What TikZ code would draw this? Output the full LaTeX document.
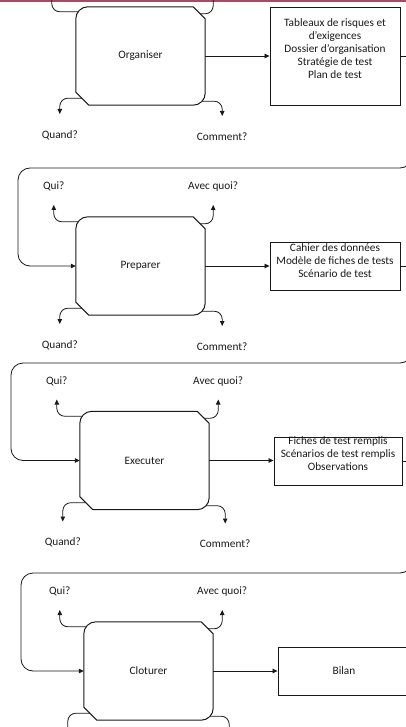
\documentclass[tikz,border=0pt]{standalone}
\usepackage{fontspec}
\setmainfont{Carlito}
\usetikzlibrary{calc,arrows.meta}

\definecolor{topline}{RGB}{160,78,100}
\definecolor{ink}{RGB}{25,25,25}

% Outline of a process stage: rounded top-left and bottom-right corners,
% cut top-right and bottom-left corners.
\newcommand\stageoutline[1]{%
  \draw[outline] ($(#1.north west)+(0,12)$)
    .. controls ($(#1.north west)+(0,5.4)$) and ($(#1.north west)+(5.4,0)$) .. ($(#1.north west)+(12,0)$)
    -- ($(#1.north east)+(-12,0)$) -- ($(#1.north east)+(0,12)$)
    -- ($(#1.south east)+(0,-12)$)
    .. controls ($(#1.south east)+(0,-5.4)$) and ($(#1.south east)+(-5.4,0)$) .. ($(#1.south east)+(-12,0)$)
    -- ($(#1.south west)+(13,0)$) -- ($(#1.south west)+(0,-13)$) -- cycle;}

% Question arrows leaving a stage towards its labels
\newcommand\upflows[3]{%
  \draw[cornerflow,shorten >=13pt] ($(#1.north west)+(2,5)$) -| (#2.south);
  \draw[cornerflow,shorten >=13pt] ($(#1.north east)+(-5,7)$) -| (#3.south);}
\newcommand\downflows[3]{%
  \draw[cornerflow,shorten >=16pt] ($(#1.south west)+(6,-7)$) -| (#2.north);
  \draw[cornerflow,shorten >=16pt] ($(#1.south east)+(-3,-4)$) -| (#3.north);}

\begin{document}
\begin{tikzpicture}[x=1pt,y=-1pt,
  every node/.style={font=\fontsize{11.3}{13}\selectfont,text=ink},
  stage/.style={minimum width=129pt,minimum height=98pt,inner sep=0pt},
  outbox/.style={draw=ink,line width=0.9pt,inner sep=0pt},
  ask/.style={inner sep=0pt,text height=8pt,text depth=2pt},
  outline/.style={draw=ink,line width=1pt},
  plain/.style={draw=ink,line width=0.8pt},
  flow/.style={plain,-{Triangle[length=5pt,width=4.5pt]}},
  cornerflow/.style={flow,rounded corners=8pt},
  loopflow/.style={flow,rounded corners=12pt}]

\useasboundingbox (0,0) rectangle (406,727);
\clip (0,0) rectangle (406,727);

\draw[topline,line width=1.6pt] (0,0.8) -- (406,0.8);

% ---------- Organiser ----------
\node[stage] (org) at (140.5,56) {Organiser};
\stageoutline{org}
\node[outbox,minimum width=130pt,minimum height=98pt] (o1) at (335,56) {};
\node[align=center] (t1) at ($(o1.center)+(0,-7.5)$)
  {Tableaux de risques et\\d’exigences\\Dossier d’organisation\\Stratégie de test\\Plan de test};
\draw[flow] (org.east) -- (o1.west);
\draw[cornerflow] ($(org.north west)+(2,5)$) -| ($(org.north west)+(-24,-12)$);
\draw[cornerflow] ($(org.north east)+(-5,7)$) -| ($(org.north east)+(8,-12)$);
\node[ask] (quand1) at ($(org.south west)+(-16,30)$) {Quand?};
\node[ask] (comment1) at ($(org.south east)+(17,32)$) {Comment?};
\downflows{org}{quand1}{comment1}
\draw[plain] (o1.east) -- ++(15,0);

% ---------- Preparer ----------
\node[stage] (prep) at (140.5,266) {Preparer};
\stageoutline{prep}
\node[outbox,minimum width=130pt,minimum height=47.5pt] (o2) at (335,266.3) {};
\node[align=center] (t2) at ($(o2.center)+(0,-6)$)
  {Cahier des données\\Modèle de fiches de tests\\Scénario de test};
\draw[flow] (prep.east) -- (prep.east -| o2.west);
\node[ask] (qui2) at ($(prep.north west)+(-22,-30)$) {Qui?};
\node[ask] (avec2) at ($(prep.north east)+(8,-30)$) {Avec quoi?};
\node[ask] (quand2) at ($(prep.south west)+(-16,30)$) {Quand?};
\node[ask] (comment2) at ($(prep.south east)+(17,32)$) {Comment?};
\upflows{prep}{qui2}{avec2}
\downflows{prep}{quand2}{comment2}
\draw[plain] (o2.east) -- ++(15,0);
\coordinate (in1) at (412,140);
\draw[loopflow] (in1) |- (18,168) |- (prep.west);

% ---------- Executer ----------
\node[stage] (exec) at (144.5,460.5) {Executer};
\stageoutline{exec}
\node[outbox,minimum width=128pt,minimum height=48pt] (o3) at (338,461) {};
\node[align=center] (t3) at ($(o3.center)+(0,-7)$)
  {Fiches de test remplis\\Scénarios de test remplis\\Observations};
\draw[flow] (exec.east) -- (exec.east -| o3.west);
\node[ask] (qui3) at ($(exec.north west)+(-23,-30)$) {Qui?};
\node[ask] (avec3) at ($(exec.north east)+(9,-30)$) {Avec quoi?};
\node[ask] (quand3) at ($(exec.south west)+(-17,33)$) {Quand?};
\node[ask] (comment3) at ($(exec.south east)+(16,35)$) {Comment?};
\upflows{exec}{qui3}{avec3}
\downflows{exec}{quand3}{comment3}
\draw[plain] (o3.east) -- ++(15,0);
\coordinate (in2) at (412,330);
\draw[loopflow] (in2) |- (11,363) |- (exec.west);

% ---------- Cloturer ----------
\node[stage] (clot) at (148.5,671) {Cloturer};
\stageoutline{clot}
\node[outbox,minimum width=132pt,minimum height=48pt] (o4) at (344,671) {Bilan};
\draw[flow] (clot.east) -- (clot.east -| o4.west);
\node[ask] (qui4) at ($(clot.north west)+(-24,-30)$) {Qui?};
\node[ask] (avec4) at ($(clot.north east)+(9,-30)$) {Avec quoi?};
\upflows{clot}{qui4}{avec4}
\draw[cornerflow] ($(clot.south west)+(6,-7)$) -| ($(clot.south west)+(-16,14)$);
\draw[cornerflow] ($(clot.south east)+(-3,-4)$) -| ($(clot.south east)+(16,15)$);
\coordinate (in3) at (412,540);
\draw[loopflow] (in3) |- (21,573) |- (clot.west);
\end{tikzpicture}
\end{document}
